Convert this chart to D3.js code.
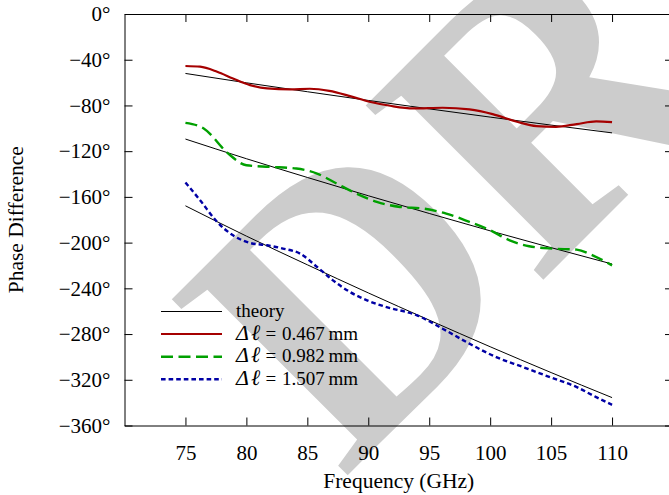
<!DOCTYPE html>
<html>
<head>
<meta charset="utf-8">
<script src="https://cdn.jsdelivr.net/npm/d3@7"></script>
<style>
    body { margin: 0; background: #fff; }
    svg, svg text { font-family: "Liberation Serif", "Times New Roman", serif; }
    svg { display: block; }
</style>
</head>
<body>
<div class="chart"></div>
<script>
// Data.
const theoryFreq = [75, 80, 85, 90, 95, 100, 105, 110];
const theory1 = [-52, -60.2, -68.0, -75.6, -83.0, -90.2, -97.2, -104];
const theory2 = [-109.4, -126.6, -143.0, -159.0, -174.5, -189.7, -204.4, -218.7];
const theory3 = [-167.8, -194.3, -219.4, -244.0, -267.8, -291.1, -313.7, -335.6];

const freq1 = [75, 76.2, 77.6, 78.9, 80.3, 81.7, 83.6, 85.2, 86.8, 88.5, 90.1, 91.8, 93.7, 96.1, 98.3, 100.2, 102.2, 103.8, 105.4, 107.1, 108.7, 110];
const phase1 = [-45.5, -46.1, -50.5, -56.4, -62.2, -65.1, -66.0, -65.4, -67.2, -71.8, -76.8, -80.3, -82.6, -82.0, -83.5, -87.6, -94.3, -98.1, -98.7, -96.3, -94.0, -94.6];

const freq2 = [75, 76.5, 78.4, 80.0, 81.9, 84.1, 85.8, 87.4, 89.0, 90.7, 92.6, 94.5, 96.4, 98.3, 100.0, 101.6, 103.2, 105.2, 107.1, 108.4, 110];
const phase2 = [-95.2, -100.1, -121, -132.3, -133.7, -135.2, -139.6, -148.3, -157.0, -164.4, -168.8, -170.2, -174.6, -181.9, -189.2, -198.0, -203.2, -205.3, -206.1, -211.1, -219.9];

const freq3 = [75, 76.2, 77.6, 78.9, 80.3, 81.7, 83.0, 84.4, 85.8, 87.1, 88.5, 89.9, 91.5, 94.0, 96.1, 98.3, 100.5, 102.7, 104.9, 107.1, 108.7, 110];
const phase3 = [-147.4, -162.9, -181.9, -193.6, -200.3, -202.3, -205.2, -209.6, -221.3, -233.0, -243.2, -250.5, -256.4, -263.6, -275.3, -288.4, -300.2, -308.9, -317.7, -326.4, -335.2, -341.9];

const xTicks = [75, 80, 85, 90, 95, 100, 105, 110];
const yTicks = [0, -40, -80, -120, -160, -200, -240, -280, -320, -360];
const legendLabels = ['theory', '0.467', '0.982', '1.507'];

function buildChart() {
    const width = 669;
    const height = 495;
    const margin = {top: 14, right: -4, bottom: 69.5, left: 124.5};
    const serif = '"Liberation Serif", "Times New Roman", serif';

    const svg = d3.select('.chart')
        .append('svg')
        .attr('width', width)
        .attr('height', height)
        .attr('font-family', serif);

    // Draft watermark sits behind everything.
    svg.append('text')
        .attr('transform', 'translate(343,480) rotate(-45)')
        .attr('font-size', 380)
        .attr('font-weight', 'bold')
        .attr('fill', '#cccccc')
        .text('DRAFT');

    const x = d3.scaleLinear()
        .domain([70, 115])
        .range([margin.left, width - margin.right]);

    const y = d3.scaleLinear()
        .domain([-360, 0])
        .range([height - margin.bottom, margin.top]);

    const fmt = d => (d < 0 ? '\u2212' + (-d) : d) + '\u00b0';

    // Axes, ticks pointing inwards on all four sides.
    const styleAxis = g => {
        g.attr('font-family', serif).attr('font-size', 21);
        g.selectAll('.domain, .tick line').attr('stroke', '#000');
        g.selectAll('.tick text').attr('fill', '#000').attr('font-family', serif);
    };

    svg.append('g')
        .attr('transform', `translate(0,${y(-360)})`)
        .call(d3.axisBottom(x).tickValues(xTicks).tickSizeInner(-8).tickSizeOuter(0).tickPadding(20))
        .call(styleAxis);
    svg.append('g')
        .attr('transform', `translate(0,${y(0)})`)
        .call(d3.axisTop(x).tickValues(xTicks).tickSizeInner(-8).tickSizeOuter(0).tickFormat(''))
        .call(styleAxis);
    svg.append('g')
        .attr('transform', `translate(${x(70)},0)`)
        .call(d3.axisLeft(y).tickValues(yTicks).tickSizeInner(-8).tickSizeOuter(0).tickPadding(14).tickFormat(fmt))
        .call(styleAxis);
    svg.append('g')
        .attr('transform', `translate(${x(115)},0)`)
        .call(d3.axisRight(y).tickValues(yTicks).tickSizeInner(-8).tickSizeOuter(0).tickFormat(''))
        .call(styleAxis);

    // Axis titles.
    svg.append('text')
        .attr('x', (x(70) + x(115)) / 2)
        .attr('y', 488)
        .attr('text-anchor', 'middle')
        .attr('font-size', 21.5)
        .text('Frequency (GHz)');
    svg.append('text')
        .attr('transform', `translate(23,${(y(0) + y(-360)) / 2}) rotate(-90)`)
        .attr('text-anchor', 'middle')
        .attr('font-size', 21.5)
        .text('Phase Difference');

    const line = d3.line()
        .x(d => x(d[0]))
        .y(d => y(d[1]))
        .curve(d3.curveMonotoneX);

    const series = [
        {f: theoryFreq, v: theory1, color: '#000', w: 1, dash: null},
        {f: theoryFreq, v: theory2, color: '#000', w: 1, dash: null},
        {f: theoryFreq, v: theory3, color: '#000', w: 1, dash: null},
        {f: freq1, v: phase1, color: '#a50000', w: 2.2, dash: null},
        {f: freq2, v: phase2, color: '#00a000', w: 2.4, dash: '12 5.5'},
        {f: freq3, v: phase3, color: '#0000a5', w: 2.4, dash: '4.6 3'}
    ];

    svg.append('g')
        .selectAll('path')
        .data(series)
        .join('path')
        .attr('fill', 'none')
        .attr('stroke', d => d.color)
        .attr('stroke-width', d => d.w)
        .attr('stroke-dasharray', d => d.dash)
        .attr('d', d => line(d.f.map((f, i) => [f, d.v[i]])));

    // Legend.
    const legendStyle = [series[0], series[3], series[4], series[5]];
    const rowY = [311.5, 334, 356.7, 379.3];
    const legend = svg.append('g')
        .selectAll('g')
        .data(legendLabels)
        .join('g')
        .attr('transform', (d, i) => `translate(161,${rowY[i]})`);

    legend.append('line')
        .attr('x2', 61)
        .attr('stroke', (d, i) => legendStyle[i].color)
        .attr('stroke-width', (d, i) => legendStyle[i].w)
        .attr('stroke-dasharray', (d, i) => legendStyle[i].dash);

    const label = legend.append('text')
        .attr('x', 75)
        .attr('dy', '0.3em')
        .attr('font-size', 19);

    // Math-style spacing: italic Delta-ell, wide gaps round "=".
    label.each(function (d, i) {
        const t = d3.select(this);
        if (i === 0) {
            t.text(d);
        } else {
            t.append('tspan')
                .attr('font-style', 'italic')
                .attr('font-size', 22)
                .attr('letter-spacing', 2)
                .text('\u0394\u2113');
            t.append('tspan').attr('x', 104.5).text('=');
            t.append('tspan').attr('x', 121).text(`${d}\u2009mm`);
        }
    });
}

buildChart();
</script>
</body>
</html>
